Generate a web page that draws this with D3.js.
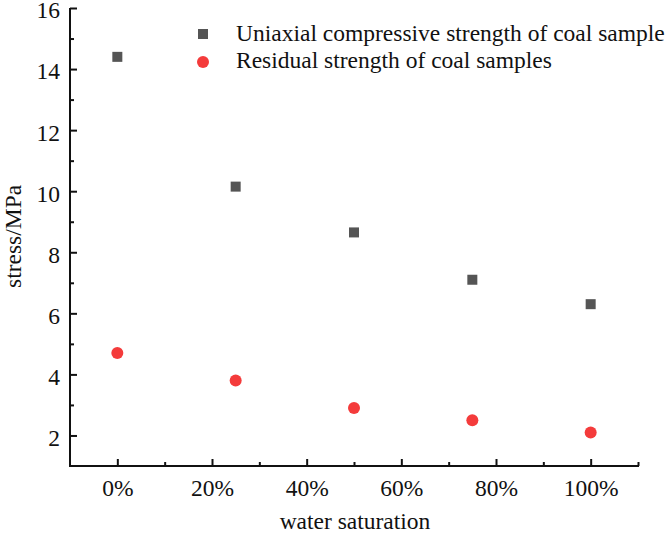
<!DOCTYPE html>
<html><head><meta charset="utf-8">
<script src="https://cdn.jsdelivr.net/npm/d3@7"></script>
<style>body{margin:0;background:#fff}svg{display:block}text{font-family:"Liberation Serif","Times New Roman",serif;fill:#111}</style>
</head><body><svg id="c" width="669" height="534"></svg>
<script>
const saturation = [0, 25, 50, 75, 100];
const ucsValues = [14.4, 10.15, 8.65, 7.1, 6.3];
const residualValues = [4.7, 3.8, 2.9, 2.5, 2.1];
const seriesNames = ["Uniaxial compressive strength of coal sample", "Residual strength of coal samples"];
const xTicks = [0, 20, 40, 60, 80, 100];
const yTicks = [2, 4, 6, 8, 10, 12, 14, 16];

const svg = d3.select("#c");
const x = d3.scaleLinear().domain([-10, 110]).range([70, 638]);
const y = d3.scaleLinear().domain([1, 16]).range([466, 8]);
const FS = 23.5;

const yAxis = d3.axisLeft(y).tickValues(yTicks).tickSize(-7).tickPadding(10).tickFormat(d3.format("d"));
const gy = svg.append("g").attr("transform", "translate(70,0)").call(yAxis);
const yMinor = d3.axisLeft(y).tickValues([3,5,7,9,11,13,15]).tickSize(-4).tickFormat("");
svg.append("g").attr("transform", "translate(70,0)").call(yMinor).select(".domain").remove();

const xAxis = d3.axisBottom(x).tickValues(xTicks).tickSize(-7).tickPadding(13).tickFormat(d => d + "%");
const gx = svg.append("g").attr("transform", "translate(0,466)").call(xAxis);
const xMinor = d3.axisBottom(x).tickValues([10,30,50,70,90,110]).tickSize(-4).tickFormat("");
svg.append("g").attr("transform", "translate(0,466)").call(xMinor).select(".domain").remove();

svg.selectAll(".domain").attr("stroke", "#111").attr("stroke-width", 2);
gy.select(".domain").attr("d", "M0,467V8");
gx.select(".domain").attr("d", "M69,0H639");
svg.selectAll(".tick line").attr("stroke", "#111").attr("stroke-width", 2);
svg.selectAll(".tick text").attr("font-size", FS).attr("font-family", "Liberation Serif").attr("fill", "#111");
gy.selectAll(".tick text").attr("dy", "0.42em");

svg.append("text").attr("transform", "translate(21,288) rotate(-90)").attr("text-anchor", "start")
  .attr("font-size", FS).text("stress/MPa");
svg.append("text").attr("x", 355).attr("y", 529).attr("text-anchor", "middle")
  .attr("font-size", FS).text("water saturation");

const sq = 10;
svg.append("g").selectAll("rect").data(saturation).join("rect")
  .attr("x", d => x(d) - sq/2).attr("y", (d,i) => y(ucsValues[i]) - sq/2)
  .attr("width", sq).attr("height", sq).attr("fill", "#555");
svg.append("g").selectAll("circle").data(saturation).join("circle")
  .attr("cx", d => x(d)).attr("cy", (d,i) => y(residualValues[i])).attr("r", 6).attr("fill", "#f43b3b");

const lg = svg.append("g");
lg.append("rect").attr("x", 203 - sq/2).attr("y", 34 - sq/2).attr("width", sq).attr("height", sq).attr("fill", "#555");
lg.append("circle").attr("cx", 203).attr("cy", 62).attr("r", 6).attr("fill", "#f43b3b");
lg.append("text").attr("x", 236).attr("y", 41).attr("font-size", FS).text(seriesNames[0]);
lg.append("text").attr("x", 236).attr("y", 68).attr("font-size", FS).text(seriesNames[1]);
</script></body></html>
